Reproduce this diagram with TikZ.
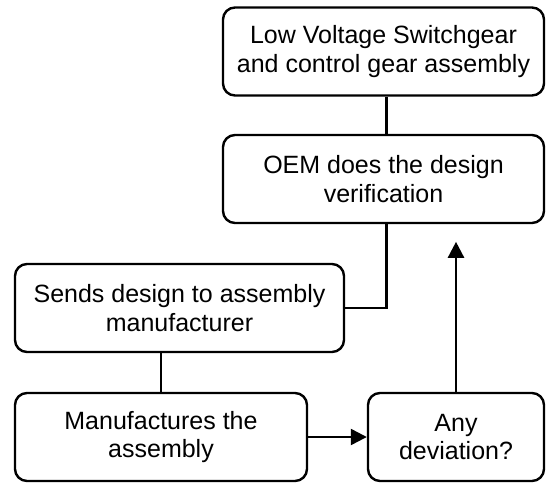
\documentclass[tikz,border=0pt]{standalone}
\usepackage{fontspec}
\setmainfont{Liberation Sans}
\usepackage{tikz}
\usetikzlibrary{arrows.meta, positioning, calc}

\tikzset{
  flowbox/.style={draw, line width=2.4pt, rounded corners=12pt, align=center,
                  inner sep=0pt, minimum height=88pt},
  link/.style={line width=2.4pt},
  flowarrow/.style={line width=2.4pt, -{Triangle[length=16pt, width=16pt]}}
}

\begin{document}
\begin{tikzpicture}[x=1pt, y=-1pt,
    font=\fontsize{25pt}{28.5pt}\selectfont]
    \useasboundingbox (0,0) rectangle (546,484);
    \node[flowbox, minimum width=321pt] (lvsg) at (383.5,51.5)
      {Low Voltage Switchgear\\and control gear assembly};
    \node[flowbox, minimum width=321pt] (oem) at (383.5,179)
      {OEM does the design\\verification};
    \node[flowbox, minimum width=329pt] (sends) at (179.5,308)
      {Sends design to assembly\\manufacturer};
    \node[flowbox, minimum width=292pt] (manuf) at (161,437)
      {Manufactures the\\assembly};
    \node[flowbox, minimum width=176pt] (dev) at (456,437)
      {Any\\deviation?};
    \coordinate (back) at ($(dev.north)+(0,-150)$);
    % connectors
    \draw[link] ([xshift=3pt]lvsg.south) -- ([xshift=3pt]oem.north);
    \draw[link] ([xshift=3pt]oem.south) |- (sends.east);
    \draw[link] (sends.south -| manuf.north) -- (manuf.north);
    \draw[flowarrow] (manuf.east) -- (dev.west);
    \draw[flowarrow] (dev.north) -- (back);
  \end{tikzpicture}
\end{document}
